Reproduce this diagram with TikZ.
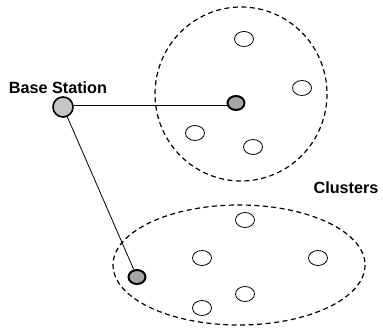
\documentclass[tikz,border=0pt]{standalone}
\usepackage{fontspec}
\setmainfont{Liberation Sans}
\usetikzlibrary{shapes.geometric}
\begin{document}
\begin{tikzpicture}[x=1pt,y=-1pt,
  member/.style={ellipse,draw=black,line width=0.8pt,fill=white,minimum width=19pt,minimum height=15pt,inner sep=0pt},
  head/.style={ellipse,draw=black,line width=2pt,fill=gray!70,minimum width=17pt,minimum height=14pt,inner sep=0pt},
  bs/.style={circle,draw=black,line width=1.6pt,fill=gray!45,minimum size=20pt,inner sep=0pt},
  cluster/.style={draw=black,line width=1.2pt,dash pattern=on 5pt off 3.5pt},
  link/.style={draw=black,line width=0.8pt},
  lbl/.style={font=\bfseries\fontsize{16.2}{18}\selectfont,inner sep=0pt}]
\useasboundingbox (0,0) rectangle (383,328);
% clusters
\draw[cluster] (241,94) ellipse [x radius=86, y radius=87];
\draw[cluster] (239,265) ellipse [x radius=126, y radius=60];
% nodes
\node[bs] (bs) at (63,107) {};
\node[head] (h1) at (236,103) {};
\node[head] (h2) at (137,277) {};
\node[member] (a1) at (244,39) {};
\node[member] (a2) at (302,88) {};
\node[member] (a3) at (195,133) {};
\node[member] (a4) at (253,147) {};
\node[member] (b1) at (245,220) {};
\node[member] (b2) at (202,258) {};
\node[member] (b3) at (318,258) {};
\node[member] (b4) at (245,294) {};
\node[member] (b5) at (202,308) {};
% links
\draw[link] (bs.east |- 0,105) -- (h1.west |- 0,105);
\draw[link] (bs) -- (h2);
% labels
\node[lbl] (lbs) at (58,88) {Base Station};
\node[lbl] (lcl) at (346,187.5) {Clusters};
\end{tikzpicture}
\end{document}
